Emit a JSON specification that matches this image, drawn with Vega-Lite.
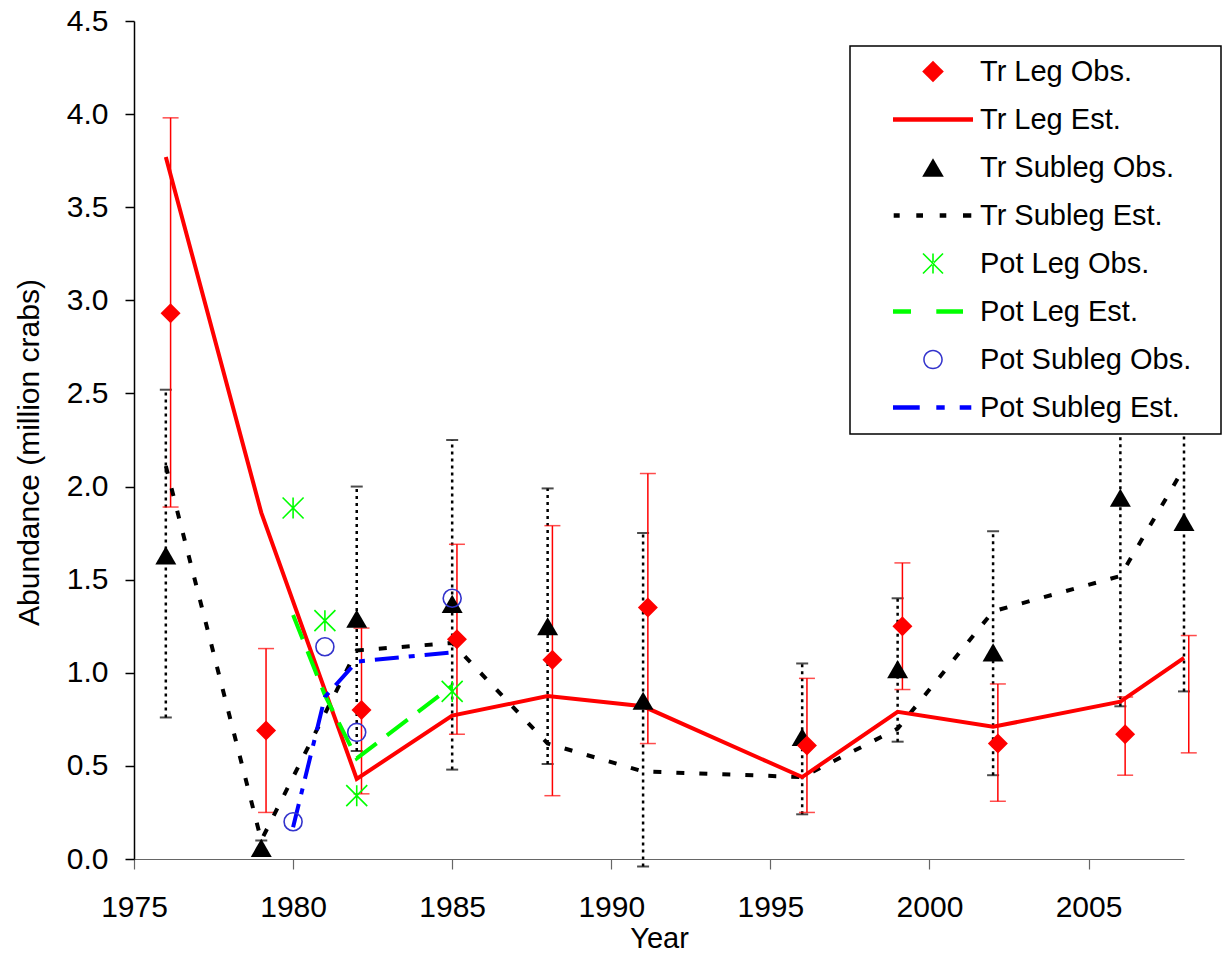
{
  "$schema": "https://vega.github.io/schema/vega-lite/v6.json",
  "width": 1050,
  "height": 838,
  "autosize": "none",
  "padding": {"left": 134, "top": 21, "right": 41, "bottom": 97},
  "background": "white",
  "config": {"view": {"stroke": null}, "font": "Liberation Sans"},
  "data": {"values": [
    {"s": "Tr Leg Obs.", "year": 1976.15, "v": 2.93, "lo": 1.89, "hi": 3.98},
    {"s": "Tr Leg Obs.", "year": 1979.15, "v": 0.69, "lo": 0.25, "hi": 1.13},
    {"s": "Tr Leg Obs.", "year": 1982.15, "v": 0.80, "lo": 0.35, "hi": 1.24},
    {"s": "Tr Leg Obs.", "year": 1985.15, "v": 1.18, "lo": 0.67, "hi": 1.69},
    {"s": "Tr Leg Obs.", "year": 1988.15, "v": 1.07, "lo": 0.34, "hi": 1.79},
    {"s": "Tr Leg Obs.", "year": 1991.15, "v": 1.35, "lo": 0.62, "hi": 2.07},
    {"s": "Tr Leg Obs.", "year": 1996.15, "v": 0.61, "lo": 0.25, "hi": 0.97},
    {"s": "Tr Leg Obs.", "year": 1999.15, "v": 1.25, "lo": 0.91, "hi": 1.59},
    {"s": "Tr Leg Obs.", "year": 2002.15, "v": 0.62, "lo": 0.31, "hi": 0.94},
    {"s": "Tr Leg Obs.", "year": 2006.15, "v": 0.67, "lo": 0.45, "hi": 0.87},
    {"s": "Tr Leg Obs.", "year": 2008.15, "v": null, "lo": 0.57, "hi": 1.20},
    {"s": "Tr Leg Est.", "year": 1976, "v": 3.77},
    {"s": "Tr Leg Est.", "year": 1979, "v": 1.86},
    {"s": "Tr Leg Est.", "year": 1982, "v": 0.43},
    {"s": "Tr Leg Est.", "year": 1985, "v": 0.77},
    {"s": "Tr Leg Est.", "year": 1988, "v": 0.875},
    {"s": "Tr Leg Est.", "year": 1991, "v": 0.82},
    {"s": "Tr Leg Est.", "year": 1996, "v": 0.44},
    {"s": "Tr Leg Est.", "year": 1999, "v": 0.79},
    {"s": "Tr Leg Est.", "year": 2002, "v": 0.71},
    {"s": "Tr Leg Est.", "year": 2006, "v": 0.845},
    {"s": "Tr Leg Est.", "year": 2008, "v": 1.08},
    {"s": "Tr Subleg Obs.", "year": 1976, "v": 1.63, "lo": 0.76, "hi": 2.52},
    {"s": "Tr Subleg Obs.", "year": 1979, "v": 0.06, "lo": 0.02, "hi": 0.10},
    {"s": "Tr Subleg Obs.", "year": 1982, "v": 1.29, "lo": 0.58, "hi": 2.00},
    {"s": "Tr Subleg Obs.", "year": 1985, "v": 1.37, "lo": 0.48, "hi": 2.25},
    {"s": "Tr Subleg Obs.", "year": 1988, "v": 1.25, "lo": 0.51, "hi": 1.99},
    {"s": "Tr Subleg Obs.", "year": 1991, "v": 0.85, "lo": -0.04, "hi": 1.75},
    {"s": "Tr Subleg Obs.", "year": 1996, "v": 0.655, "lo": 0.24, "hi": 1.05},
    {"s": "Tr Subleg Obs.", "year": 1999, "v": 1.02, "lo": 0.63, "hi": 1.40},
    {"s": "Tr Subleg Obs.", "year": 2002, "v": 1.11, "lo": 0.45, "hi": 1.76},
    {"s": "Tr Subleg Obs.", "year": 2006, "v": 1.94, "lo": 0.82, "hi": 3.06},
    {"s": "Tr Subleg Obs.", "year": 2008, "v": 1.81, "lo": 0.90, "hi": 2.72},
    {"s": "Tr Subleg Est.", "year": 1976, "v": 2.11},
    {"s": "Tr Subleg Est.", "year": 1979, "v": 0.10},
    {"s": "Tr Subleg Est.", "year": 1982, "v": 1.12},
    {"s": "Tr Subleg Est.", "year": 1985, "v": 1.16},
    {"s": "Tr Subleg Est.", "year": 1988, "v": 0.62},
    {"s": "Tr Subleg Est.", "year": 1991, "v": 0.47},
    {"s": "Tr Subleg Est.", "year": 1996, "v": 0.44},
    {"s": "Tr Subleg Est.", "year": 1999, "v": 0.70},
    {"s": "Tr Subleg Est.", "year": 2002, "v": 1.33},
    {"s": "Tr Subleg Est.", "year": 2006, "v": 1.52},
    {"s": "Tr Subleg Est.", "year": 2008, "v": 2.10},
    {"s": "Pot Leg Obs.", "year": 1980, "v": 1.885},
    {"s": "Pot Leg Obs.", "year": 1981, "v": 1.28},
    {"s": "Pot Leg Obs.", "year": 1982, "v": 0.34},
    {"s": "Pot Leg Obs.", "year": 1985, "v": 0.90},
    {"s": "Pot Leg Est.", "year": 1980, "v": 1.31},
    {"s": "Pot Leg Est.", "year": 1981, "v": 0.88},
    {"s": "Pot Leg Est.", "year": 1982, "v": 0.54},
    {"s": "Pot Leg Est.", "year": 1985, "v": 0.93},
    {"s": "Pot Subleg Obs.", "year": 1980, "v": 0.20},
    {"s": "Pot Subleg Obs.", "year": 1981, "v": 1.14},
    {"s": "Pot Subleg Obs.", "year": 1982, "v": 0.68},
    {"s": "Pot Subleg Obs.", "year": 1985, "v": 1.40},
    {"s": "Pot Subleg Est.", "year": 1980, "v": 0.17},
    {"s": "Pot Subleg Est.", "year": 1981, "v": 0.87},
    {"s": "Pot Subleg Est.", "year": 1982, "v": 1.06},
    {"s": "Pot Subleg Est.", "year": 1985, "v": 1.11}
  ]},
  "encoding": {
    "x": {
      "field": "year", "type": "quantitative",
      "scale": {"domain": [1975, 2008], "nice": false, "zero": false},
      "axis": {
        "title": "Year", "values": [1975, 1980, 1985, 1990, 1995, 2000, 2005], "format": "d",
        "grid": false, "labelFont": "Liberation Sans", "labelFontSize": 30, "labelColor": "black",
        "tickSize": 10, "tickColor": "#666666", "domainColor": "#666666", "domainWidth": 1.2, "tickWidth": 1.2,
        "labelPadding": 23.5, "labelFlush": false, "labelOverlap": false,
        "titleFont": "Liberation Sans", "titleFontSize": 29, "titleFontWeight": "normal", "titleColor": "black", "titlePadding": 2
      }
    }
  },
  "layer": [
    {
      "transform": [{"filter": "datum.s === 'Tr Subleg Obs.'"}],
      "mark": {"type": "rule", "color": "black", "strokeWidth": 2.5, "strokeDash": [3, 4]},
      "encoding": {
        "y": {"field": "lo", "type": "quantitative", "title": "Abundance (million crabs)",
          "scale": {"domain": [0, 4.5], "nice": false, "zero": false},
          "axis": {
            "values": [0, 0.5, 1, 1.5, 2, 2.5, 3, 3.5, 4, 4.5], "format": ".1f", "grid": false,
            "labelFont": "Liberation Sans", "labelFontSize": 30, "labelColor": "black",
            "tickSize": 9, "tickColor": "black", "domainColor": "black", "domainWidth": 1.5, "tickWidth": 1.5,
            "labelPadding": 17, "labelFlush": false, "labelOverlap": false,
            "titleFont": "Liberation Sans", "titleFontSize": 30, "titleFontWeight": "normal", "titleColor": "black",
            "titlePadding": 22, "titleY": 431
          }
        },
        "y2": {"field": "hi"}
      }
    },
    {
      "transform": [{"filter": "datum.s === 'Tr Subleg Obs.'"}],
      "mark": {"type": "tick", "orient": "horizontal", "color": "black", "size": 12, "thickness": 2},
      "encoding": {"y": {"field": "hi", "type": "quantitative", "title": "Abundance (million crabs)"}}
    },
    {
      "transform": [{"filter": "datum.s === 'Tr Subleg Obs.'"}],
      "mark": {"type": "tick", "orient": "horizontal", "color": "black", "size": 12, "thickness": 2},
      "encoding": {"y": {"field": "lo", "type": "quantitative", "title": "Abundance (million crabs)"}}
    },
    {
      "transform": [{"filter": "datum.s === 'Tr Leg Obs.'"}],
      "mark": {"type": "rule", "color": "#FF0000", "strokeWidth": 1.5},
      "encoding": {
        "y": {"field": "lo", "type": "quantitative", "title": "Abundance (million crabs)"},
        "y2": {"field": "hi"}
      }
    },
    {
      "transform": [{"filter": "datum.s === 'Tr Leg Obs.'"}],
      "mark": {"type": "tick", "orient": "horizontal", "color": "#FF0000", "size": 16, "thickness": 1.5},
      "encoding": {"y": {"field": "hi", "type": "quantitative", "title": "Abundance (million crabs)"}}
    },
    {
      "transform": [{"filter": "datum.s === 'Tr Leg Obs.'"}],
      "mark": {"type": "tick", "orient": "horizontal", "color": "#FF0000", "size": 16, "thickness": 1.5},
      "encoding": {"y": {"field": "lo", "type": "quantitative", "title": "Abundance (million crabs)"}}
    },
    {
      "transform": [{"filter": "datum.s === 'Tr Subleg Est.'"}],
      "mark": {"type": "line", "strokeWidth": 4, "strokeDash": [8, 15]},
      "encoding": {
        "y": {"field": "v", "type": "quantitative", "title": "Abundance (million crabs)"},
        "color": {"field": "s", "type": "nominal",
          "scale": {
            "domain": ["Tr Leg Obs.", "Tr Leg Est.", "Tr Subleg Obs.", "Tr Subleg Est.", "Pot Leg Obs.", "Pot Leg Est.", "Pot Subleg Obs.", "Pot Subleg Est."],
            "range": ["#FF0000", "#FF0000", "#000000", "#000000", "#00FF00", "#00FF00", "#3333CC", "#0000FF"]
          },
          "legend": {
            "title": null, "orient": "none", "legendX": 716, "legendY": 25, "zindex": 1,
            "padding": 11, "rowPadding": 18, "strokeColor": "black", "fillColor": "white",
            "labelFont": "Liberation Sans", "labelFontSize": 29, "labelColor": "black", "labelLimit": 600,
            "symbolSize": 841, "symbolStrokeWidth": 0, "symbolOffset": 57.5, "labelOffset": 32.5,
            "encode": {
              "legend": {"update": {"strokeWidth": {"value": 1.5}}},
              "symbols": {"update": {
                "shape": {"signal": "['M0,-0.745L0.745,0L0,0.745L-0.745,0ZM19.1,0','M-2.759,-0.152L2.759,-0.152L2.759,0.152L-2.759,0.152ZM19.1,0','M0,-0.634L0.745,0.634L-0.745,0.634ZM19.1,0','M-2.71,-0.152L-2.297,-0.152L-2.297,0.152L-2.71,0.152ZM-1.152,-0.152L-0.69,-0.152L-0.69,0.152L-1.152,0.152ZM0.462,-0.152L0.917,-0.152L0.917,0.152L0.462,0.152ZM2.069,-0.152L2.641,-0.152L2.641,0.152L2.069,0.152ZM19.1,0','M-0.055,-0.69L0.055,-0.69L0.055,0.69L-0.055,0.69ZM-0.651,-0.729L0.729,0.651L0.651,0.729L-0.729,-0.651ZM-0.651,0.729L0.729,-0.651L0.651,-0.729L-0.729,0.651ZM19.1,0','M-2.759,-0.152L-1.517,-0.152L-1.517,0.152L-2.759,0.152ZM0.228,-0.152L2.069,-0.152L2.069,0.152L0.228,0.152ZM19.1,0','M-0.676,0A0.676,0.676,0,1,0,0.676,0A0.676,0.676,0,1,0,-0.676,0ZM-0.572,0A0.572,0.572,0,1,1,0.572,0A0.572,0.572,0,1,1,-0.572,0ZM19.1,0','M-2.759,-0.152L-0.917,-0.152L-0.917,0.152L-2.759,0.152ZM0.228,-0.152L0.807,-0.152L0.807,0.152L0.228,0.152ZM1.841,-0.152L2.641,-0.152L2.641,0.152L1.841,0.152ZM19.1,0'][datum.index]"},
                "opacity": {"value": 1}
              }}
            }
          }
        }
      }
    },
    {
      "transform": [{"filter": "datum.s === 'Tr Leg Est.'"}],
      "mark": {"type": "line", "strokeWidth": 4},
      "encoding": {
        "y": {"field": "v", "type": "quantitative", "title": "Abundance (million crabs)"},
        "color": {"field": "s", "type": "nominal"}
      }
    },
    {
      "transform": [{"filter": "datum.s === 'Pot Leg Est.'"}],
      "mark": {"type": "line", "strokeWidth": 4, "strokeDash": [26, 13]},
      "encoding": {
        "y": {"field": "v", "type": "quantitative", "title": "Abundance (million crabs)"},
        "color": {"field": "s", "type": "nominal"}
      }
    },
    {
      "transform": [{"filter": "datum.s === 'Pot Subleg Est.'"}],
      "mark": {"type": "line", "strokeWidth": 4, "strokeDash": [24, 10, 6, 10]},
      "encoding": {
        "y": {"field": "v", "type": "quantitative", "title": "Abundance (million crabs)"},
        "color": {"field": "s", "type": "nominal"}
      }
    },
    {
      "transform": [{"filter": "datum.s === 'Tr Subleg Obs.'"}],
      "mark": {"type": "point", "shape": "triangle-up", "filled": true, "size": 440, "opacity": 1},
      "encoding": {
        "y": {"field": "v", "type": "quantitative", "title": "Abundance (million crabs)"},
        "color": {"field": "s", "type": "nominal"}
      }
    },
    {
      "transform": [{"filter": "datum.s === 'Tr Leg Obs.'"}],
      "mark": {"type": "point", "shape": "diamond", "filled": true, "size": 400, "opacity": 1},
      "encoding": {
        "y": {"field": "v", "type": "quantitative", "title": "Abundance (million crabs)"},
        "color": {"field": "s", "type": "nominal"}
      }
    },
    {
      "transform": [{"filter": "datum.s === 'Pot Leg Obs.'"}],
      "mark": {"type": "point", "shape": "M0,-1L0,1M-1,-1L1,1M-1,1L1,-1", "filled": false, "size": 441, "strokeWidth": 1.6, "opacity": 1},
      "encoding": {
        "y": {"field": "v", "type": "quantitative", "title": "Abundance (million crabs)"},
        "color": {"field": "s", "type": "nominal"}
      }
    },
    {
      "transform": [{"filter": "datum.s === 'Pot Subleg Obs.'"}],
      "mark": {"type": "point", "shape": "circle", "filled": false, "size": 324, "strokeWidth": 1.6, "opacity": 1},
      "encoding": {
        "y": {"field": "v", "type": "quantitative", "title": "Abundance (million crabs)"},
        "color": {"field": "s", "type": "nominal"}
      }
    }
  ]
}
